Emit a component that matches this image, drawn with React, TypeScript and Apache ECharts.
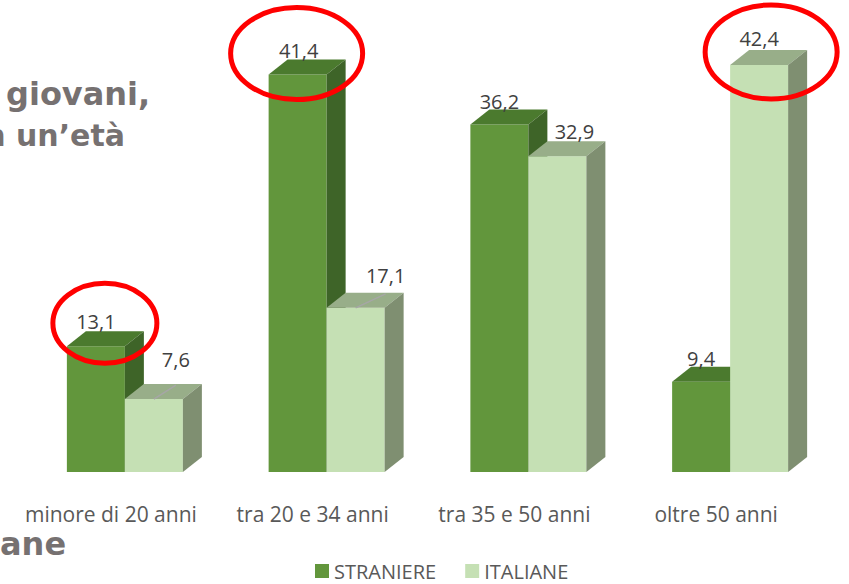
import React, { useEffect, useRef } from "react";
import * as echarts from "echarts";

const categories = ["minore di 20 anni", "tra 20 e 34 anni", "tra 35 e 50 anni", "oltre 50 anni"];
const straniere = [13.1, 41.4, 36.2, 9.4];
const italiane = [7.6, 17.1, 32.9, 42.4];
const seriesNames = ["STRANIERE", "ITALIANE"];

// presentation-only settings
const BAR_W = 58;
const DEPTH_X = 19;
const DEPTH_Y = 15;
const FONT = "'Open Sans', sans-serif";
const palettes = [
  { front: "#62963C", top: "#4B7A2E", side: "#3E6428", offset: -44 },
  { front: "#C5E0B4", top: "#98AE89", side: "#7F8F71", offset: 14 },
];
// label nudges [dx, dy, leader]
const labelNudges = [
  [[0, -25, 0], [1, -24, 0], [0, -23, 0], [0, -23, 0]],
  [[22, -40, 1], [30, -32, 1], [17, -25, 0], [0, -26, 0]],
];
// red circled labels: [series, index, dx, dy, rx, ry]
const circled = [
  [0, 0, 9, 2, 52, 40],
  [0, 1, -2, 3, 66, 46],
  [1, 3, 12, 13, 66, 47],
];

function makeRenderItem(si: number) {
  const pal = palettes[si];
  return (params: any, api: any) => {
    const idx = params.dataIndex;
    const cat = api.value(0);
    const v = api.value(1);
    const top = api.coord([cat, v]);
    const base = api.coord([cat, 0]);
    const x0 = top[0] + pal.offset;
    const yT = top[1];
    const yB = base[1];
    const children: any[] = [
      { type: "rect", shape: { x: x0, y: yT, width: BAR_W, height: yB - yT }, style: { fill: pal.front } },
      {
        type: "polygon",
        shape: { points: [[x0, yT], [x0 + DEPTH_X, yT - DEPTH_Y], [x0 + BAR_W + DEPTH_X, yT - DEPTH_Y], [x0 + BAR_W, yT]] },
        style: { fill: pal.top },
      },
      {
        type: "polygon",
        shape: { points: [[x0 + BAR_W, yT], [x0 + BAR_W + DEPTH_X, yT - DEPTH_Y], [x0 + BAR_W + DEPTH_X, yB - DEPTH_Y], [x0 + BAR_W, yB]] },
        style: { fill: pal.side },
      },
    ];
    const nudge = labelNudges[si][idx];
    const cx = x0 + BAR_W / 2;
    const lx = cx + nudge[0];
    const ly = yT + nudge[1];
    if (nudge[2]) {
      children.push({
        type: "line",
        shape: { x1: cx, y1: yT, x2: lx, y2: yT - 14 },
        style: { stroke: "#A6A6A6", lineWidth: 1.5 },
      });
    }
    children.push({
      type: "text",
      style: {
        x: lx, y: ly,
        text: String(v).replace(".", ","),
        align: "center", verticalAlign: "middle",
        fill: "#404040", font: `20px ${FONT}`,
      },
    });
    circled.forEach((c) => {
      if (c[0] === si && c[1] === idx) {
        children.push({
          type: "ellipse",
          shape: { cx: lx + c[2], cy: ly + c[3], rx: c[4], ry: c[5] },
          style: { fill: "none", stroke: "#FF0000", lineWidth: 5 },
          z2: 100,
        });
      }
    });
    return { type: "group", children };
  };
}

export default function App() {
  const ref = useRef<HTMLDivElement>(null);
  useEffect(() => {
    if (!ref.current) return;
    const chart = echarts.init(ref.current, undefined, { renderer: "svg" });
    const titleStyle = { fill: "#767171", font: "bold 32px 'DejaVu Sans', sans-serif", verticalAlign: "bottom" };
    chart.setOption({
      animation: false,
      backgroundColor: "#FFFFFF",
      grid: { left: 10, right: 32, top: 40, bottom: 112, containLabel: false },
      xAxis: {
        type: "category",
        data: categories,
        axisLine: { show: false },
        axisTick: { show: false },
        axisLabel: { color: "#595959", fontFamily: "Open Sans", fontSize: 21, margin: 31, interval: 0 },
      },
      yAxis: { type: "value", min: 0, max: 45, show: false, splitLine: { show: false } },
      legend: {
        left: 315,
        top: 561,
        padding: 0,
        itemWidth: 14,
        itemHeight: 14,
        itemGap: 29,
        icon: "rect",
        textStyle: { color: "#595959", fontFamily: "Open Sans", fontSize: 20, lineHeight: 20 },
        data: seriesNames,
      },
      graphic: [
        { type: "text", z: 10, style: { ...titleStyle, align: "left", x: 6, y: 110, text: "giovani," } },
        { type: "text", z: 10, style: { ...titleStyle, font: "bold 30px 'DejaVu Sans', sans-serif", align: "right", x: 125, y: 150, text: "n un’età" } },
        { type: "text", z: 10, style: { ...titleStyle, align: "left", x: 0, y: 560, text: "ane" } },
      ],
      series: [
        {
          type: "custom",
          name: seriesNames[0],
          itemStyle: { color: palettes[0].front },
          renderItem: makeRenderItem(0),
          data: straniere.map((v, i) => [i, v]),
        },
        {
          type: "custom",
          name: seriesNames[1],
          itemStyle: { color: palettes[1].front },
          renderItem: makeRenderItem(1),
          data: italiane.map((v, i) => [i, v]),
        },
      ],
    });
    return () => chart.dispose();
  }, []);
  return <div ref={ref} style={{ position: "fixed", left: 0, top: 0, width: 849, height: 584 }} />;
}
